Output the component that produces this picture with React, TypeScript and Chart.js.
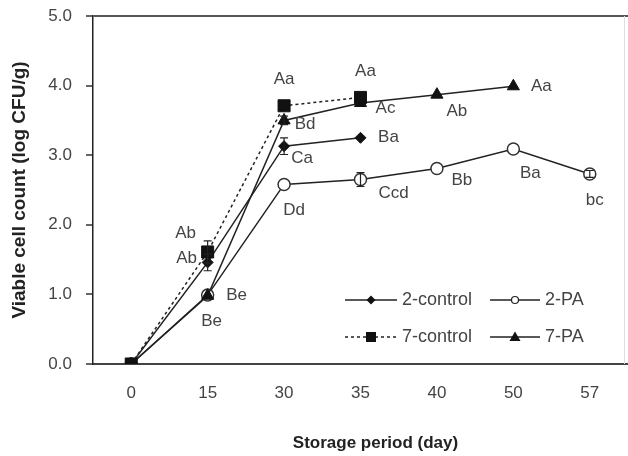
import React, { useEffect, useRef } from 'react';
import { Chart, registerables } from 'chart.js';

Chart.register(...registerables);

// ---- data ----
const days = ['0', '15', '30', '35', '40', '50', '57'];
const control2 = [0, 1.46, 3.13, 3.25, null, null, null];
const pa2 = [0, 0.99, 2.58, 2.65, 2.81, 3.09, 2.73];
const control7 = [0, 1.61, 3.71, 3.83, null, null, null];
const pa7 = [0, 0.98, 3.5, 3.75, 3.87, 3.99, null];

const errControl2 = [0, 0.12, 0.12, 0, 0, 0, 0];
const errPA2 = [0, 0, 0, 0.1, 0, 0, 0.05];
const errControl7 = [0, 0.16, 0, 0, 0, 0, 0];
const errPA7 = [0, 0, 0.06, 0, 0, 0, 0];

const lettersControl2 = ['', 'Ab', 'Ca', 'Ba', '', '', ''];
const lettersPA2 = ['', 'Be', 'Dd', 'Ccd', 'Bb', 'Ba', 'bc'];
const lettersControl7 = ['', 'Ab', 'Aa', 'Aa', '', '', ''];
const lettersPA7 = ['', 'Be', 'Bd', 'Ac', 'Ab', 'Aa', ''];

const yTicks = [0, 1, 2, 3, 4, 5];
const xTitle = 'Storage period (day)';
const yTitle = 'Viable cell count (log CFU/g)';

// ---- layout / style (pixel offsets of letter labels from their points) ----
const offControl2 = [null, [-21, -4], [18, 12], [28, 0], null, null, null];
const offPA2 = [null, [4, 26], [10, 26], [33, 14], [25, 12], [17, 24], [5, 26]];
const offControl7 = [null, [-22, -19], [0, -26], [5, -26], null, null, null];
const offPA7 = [null, [29, 0], [21, 4], [25, 5], [20, 17], [28, 0], null];

const FONT = '"Liberation Sans", Arial, sans-serif';
const LINE = '#222';
const TEXT = '#444';

const seriesExtras = [
  { err: errControl2, letters: lettersControl2, off: offControl2 },
  { err: errPA2, letters: lettersPA2, off: offPA2 },
  { err: errControl7, letters: lettersControl7, off: offControl7 },
  { err: errPA7, letters: lettersPA7, off: offPA7 },
];

const extrasPlugin = {
  id: 'extras',
  afterDatasetsDraw(chart: any) {
    const ctx = chart.ctx;
    const y = chart.scales.y;
    ctx.save();
    // error bars
    ctx.strokeStyle = LINE;
    ctx.lineWidth = 1.2;
    seriesExtras.forEach((s, di) => {
      const meta = chart.getDatasetMeta(di);
      const vals = chart.data.datasets[di].data;
      s.err.forEach((e, i) => {
        const v = vals[i];
        if (!e || v == null) return;
        const px = meta.data[i].x;
        const top = y.getPixelForValue(v + e);
        const bot = y.getPixelForValue(v - e);
        ctx.beginPath();
        ctx.moveTo(px, top);
        ctx.lineTo(px, bot);
        ctx.moveTo(px - 4, top);
        ctx.lineTo(px + 4, top);
        ctx.moveTo(px - 4, bot);
        ctx.lineTo(px + 4, bot);
        ctx.stroke();
      });
    });
    // letters
    ctx.fillStyle = TEXT;
    ctx.font = `17px ${FONT}`;
    ctx.textAlign = 'center';
    ctx.textBaseline = 'middle';
    seriesExtras.forEach((s, di) => {
      const meta = chart.getDatasetMeta(di);
      s.letters.forEach((t, i) => {
        const o = s.off[i];
        if (!t || !o) return;
        const p = meta.data[i];
        ctx.fillText(t, p.x + o[0], p.y + o[1]);
      });
    });
    ctx.restore();
  },
  afterDraw(chart: any) {
    const ctx = chart.ctx;
    const area = chart.chartArea;
    ctx.save();
    const rows = [area.bottom - 64, area.bottom - 27];
    const cols = [area.right - 283, area.right - 138];
    const lineLen = [52, 50];
    chart.data.datasets.forEach((ds: any, i: number) => {
      const col = i % 2;
      const row = Math.floor(i / 2);
      const x0 = cols[col];
      const yy = rows[row];
      const x1 = x0 + lineLen[col];
      ctx.strokeStyle = LINE;
      ctx.lineWidth = 1.5;
      ctx.setLineDash(ds.borderDash || []);
      ctx.beginPath();
      ctx.moveTo(x0, yy);
      ctx.lineTo(x1, yy);
      ctx.stroke();
      ctx.setLineDash([]);
      const cx = (x0 + x1) / 2;
      ctx.fillStyle = ds.pointBackgroundColor;
      ctx.strokeStyle = LINE;
      ctx.lineWidth = 1.2;
      const style = ds.pointStyle;
      ctx.beginPath();
      if (style === 'rectRot') {
        ctx.moveTo(cx, yy - 4.5);
        ctx.lineTo(cx + 4.5, yy);
        ctx.lineTo(cx, yy + 4.5);
        ctx.lineTo(cx - 4.5, yy);
        ctx.closePath();
        ctx.fill();
      } else if (style === 'circle') {
        ctx.arc(cx, yy, 3.5, 0, Math.PI * 2);
        ctx.fill();
        ctx.stroke();
      } else if (style === 'rect') {
        ctx.rect(cx - 5, yy - 5, 10, 10);
        ctx.fill();
      } else {
        ctx.moveTo(cx, yy - 5.5);
        ctx.lineTo(cx + 5.5, yy + 4);
        ctx.lineTo(cx - 5.5, yy + 4);
        ctx.closePath();
        ctx.fill();
      }
      ctx.fillStyle = TEXT;
      ctx.font = `18px ${FONT}`;
      ctx.textAlign = 'left';
      ctx.textBaseline = 'middle';
      ctx.fillText(ds.label, x1 + 5, yy);
    });
    // faint right border
    ctx.strokeStyle = '#ddd';
    ctx.lineWidth = 1;
    ctx.beginPath();
    ctx.moveTo(area.right - 3.5, area.top);
    ctx.lineTo(area.right - 3.5, area.bottom);
    ctx.stroke();
    // x axis title
    ctx.fillStyle = '#222';
    ctx.font = `bold 17px ${FONT}`;
    ctx.textAlign = 'center';
    ctx.textBaseline = 'middle';
    ctx.fillText(xTitle, (area.left + area.right) / 2 + 15, area.bottom + 79);
    ctx.restore();
  },
};

export default function App() {
  const ref = useRef<HTMLCanvasElement | null>(null);
  useEffect(() => {
    if (!ref.current) return;
    const chart = new Chart(ref.current, {
      type: 'line',
      data: {
        labels: days,
        datasets: [
          {
            label: '2-control',
            data: control2,
            borderColor: LINE,
            borderWidth: 1.5,
            pointStyle: 'rectRot',
            pointRadius: 5.5,
            pointBackgroundColor: '#111',
            pointBorderColor: '#111',
            pointBorderWidth: 1,
            order: 2,
          },
          {
            label: '2-PA',
            data: pa2,
            borderColor: LINE,
            borderWidth: 1.5,
            pointStyle: 'circle',
            pointRadius: 6,
            pointBackgroundColor: '#fff',
            pointBorderColor: '#333',
            pointBorderWidth: 1.5,
            order: 3,
          },
          {
            label: '7-control',
            data: control7,
            borderColor: LINE,
            borderWidth: 1.5,
            borderDash: [3, 3],
            pointStyle: 'rect',
            pointRadius: 8.5,
            pointBackgroundColor: '#111',
            pointBorderColor: '#111',
            pointBorderWidth: 1,
            order: 0,
          },
          {
            label: '7-PA',
            data: pa7,
            borderColor: LINE,
            borderWidth: 1.5,
            pointStyle: 'triangle',
            pointRadius: 7,
            pointBackgroundColor: '#111',
            pointBorderColor: '#111',
            pointBorderWidth: 1,
            order: 1,
          },
        ],
      },
      options: {
        responsive: false,
        animation: false,
        layout: { autoPadding: false, padding: { top: 16, right: 0, left: 0, bottom: 0 } },
        plugins: {
          legend: { display: false },
          tooltip: { enabled: false },
        },
        scales: {
          x: {
            type: 'category',
            offset: true,
            grid: { display: false, drawTicks: false },
            border: { display: true, color: '#444', width: 2 },
            ticks: { color: TEXT, font: { family: FONT, size: 17 }, padding: 19, maxRotation: 0 },
            afterFit: (s: any) => {
              s.height = 92;
              s.paddingLeft = 0;
              s.paddingRight = 0;
            },
          },
          y: {
            min: 0,
            max: 5,
            afterBuildTicks: (s: any) => {
              s.ticks = yTicks.map((v) => ({ value: v }));
            },
            grid: {
              drawOnChartArea: true,
              color: (c: any) => (c.tick && c.tick.value === 5 ? '#555' : 'rgba(0,0,0,0)'),
              lineWidth: 2,
              tickColor: '#333',
              tickLength: 7,
              tickWidth: 1.5,
            },
            border: { display: true, color: '#222', width: 1.5 },
            ticks: {
              color: TEXT,
              font: { family: FONT, size: 17 },
              padding: 14,
              callback: (v: any) => Number(v).toFixed(1),
            },
            title: {
              display: true,
              text: yTitle,
              color: '#222',
              font: { family: FONT, size: 19, weight: 'bold' },
              padding: { top: 8, bottom: 0 },
            },
            afterFit: (s: any) => {
              s.width = 93;
              s.paddingTop = 0;
              s.paddingBottom = 0;
            },
          },
        },
      },
      plugins: [extrasPlugin],
    });
    return () => chart.destroy();
  }, []);
  return (
    <div style={{ position: 'fixed', left: 0, top: 0, width: 628, height: 456, background: '#fff' }}>
      <canvas ref={ref} width={628} height={456} style={{ display: 'block' }} />
    </div>
  );
}
